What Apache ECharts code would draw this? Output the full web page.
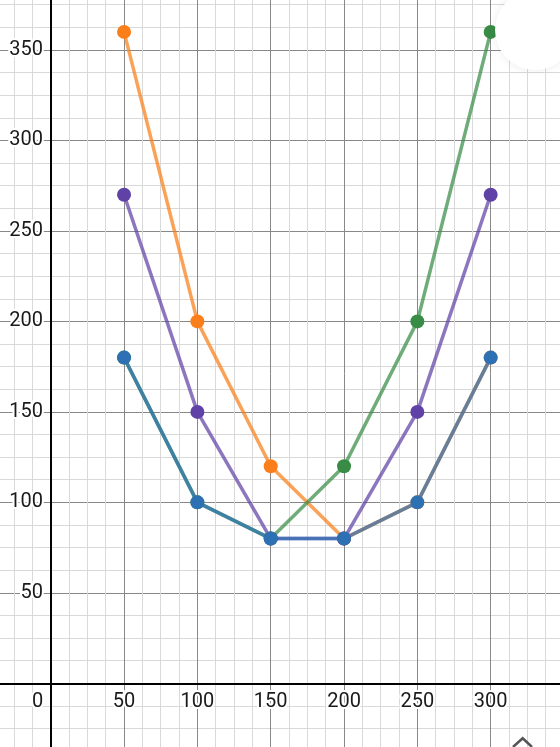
<!DOCTYPE html>
<html>
<head>
<meta charset="utf-8">
<script src="https://cdn.jsdelivr.net/npm/echarts@6/dist/echarts.min.js"></script>
<style>
  html, body { margin: 0; padding: 0; background: #fff; }
  #chart { width: 560px; height: 747px; }
</style>
</head>
<body>
<div id="chart"></div>
<script>
// x values shared by all curves
const xValues = [50, 100, 150, 200, 250, 300];

// y values for each curve
const orangeValues = [360, 200, 120, 80, 100, 180];
const greenValues = [180, 100, 80, 120, 200, 360];
const purpleValues = [270, 150, 80, 80, 150, 270];
const blueValues = [180, 100, 80, 80, 100, 180];

// which tick values get a label
const xTickLabels = [0, 50, 100, 150, 200, 250, 300];
const yTickLabels = [50, 100, 150, 200, 250, 300, 350];

const curves = [
  { name: "orange", values: orangeValues, color: "#fa7e19" },
  { name: "green", values: greenValues, color: "#388c46" },
  { name: "purple", values: purpleValues, color: "#6042a6" },
  { name: "blue", values: blueValues, color: "#2d70b3" },
];

const chart = echarts.init(document.getElementById("chart"));

const labelStyle = {
  fontFamily: "Roboto",
  fontSize: 20,
  color: "#1a1a1a",
  textBorderColor: "#fff",
  textBorderWidth: 4,
};

// grid reaches past the canvas so that -50..350 / -50..400 line up with the picture
const gridBox = { left: -22.6, right: -4, top: -40.5, bottom: -26.8 };

function axisBase(min, max) {
  return {
    type: "value",
    min: min,
    max: max,
    interval: 50,
    axisLine: { show: true, onZero: true, lineStyle: { color: "#000", width: 2 } },
    axisTick: { show: false },
    splitLine: { show: true, lineStyle: { color: "#888", width: 1 } },
    minorTick: { show: false, splitNumber: 4 },
    minorSplitLine: { show: true, lineStyle: { color: "#d9d9d9", width: 1 } },
  };
}

const option = {
  animation: false,
  backgroundColor: "#fff",
  grid: Object.assign({ containLabel: false, outerBoundsMode: "none" }, gridBox),
  xAxis: Object.assign(axisBase(-50, 350), {
    axisLabel: Object.assign({}, labelStyle, {
      // labels sit at the grid edge in v6, pull them up to the zero line
      margin: -81.5,
      formatter: function (v) {
        if (v === 0) return "{z|0}";
        return xTickLabels.indexOf(v) >= 0 ? String(v) : "";
      },
      rich: {
        z: Object.assign({}, labelStyle, { padding: [0, 26, 0, 0] }),
      },
    }),
  }),
  yAxis: Object.assign(axisBase(-50, 400), {
    axisLabel: Object.assign({}, labelStyle, {
      margin: -65.6,
      formatter: function (v) {
        return yTickLabels.indexOf(v) >= 0 ? String(v) : "";
      },
    }),
  }),
  series: curves.map((c) => ({
    name: c.name,
    type: "line",
    data: xValues.map((x, i) => [x, c.values[i]]),
    symbol: "circle",
    symbolSize: 14,
    lineStyle: { color: c.color, width: 3.5, opacity: 0.72 },
    itemStyle: { color: c.color },
    emphasis: { disabled: true },
  })),
  graphic: [
    {
      type: "circle",
      shape: { cx: 535, cy: 30, r: 40 },
      style: { fill: "#fff", shadowBlur: 10, shadowColor: "rgba(0,0,0,0.08)" },
      z: 100,
    },
    {
      type: "polyline",
      shape: { points: [[513, 747], [522.7, 738.3], [532, 747]] },
      style: { stroke: "#555", lineWidth: 2.5, fill: null },
      z: 100,
    },
  ],
};

chart.setOption(option);
</script>
</body>
</html>
